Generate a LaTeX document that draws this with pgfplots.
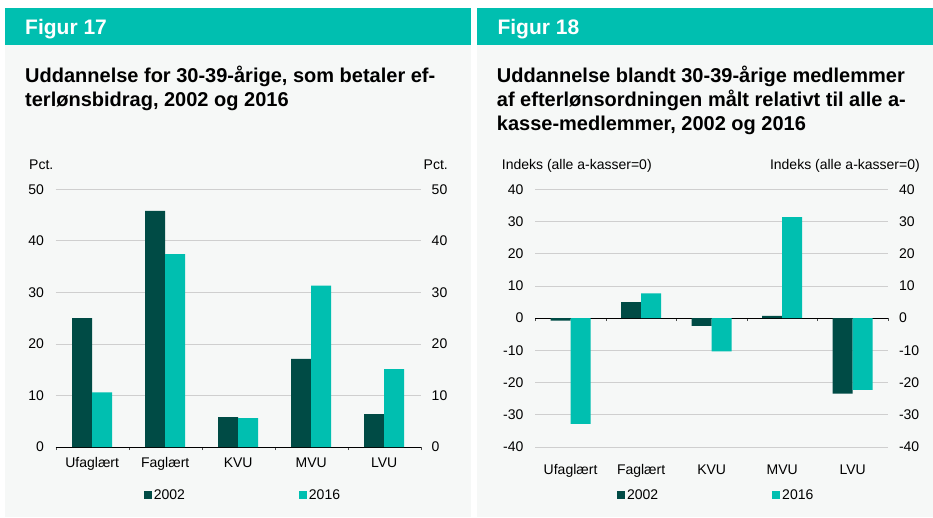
\documentclass[border=0pt]{standalone}
\usepackage{fontspec}
\setmainfont{Liberation Sans}
\usepackage{pgfplots}
\usepackage{pgfplotstable}
\pgfplotsset{compat=1.18}

\definecolor{darkbar}{HTML}{004B45}
\definecolor{lightbar}{HTML}{00BFB0}
\definecolor{headbar}{HTML}{00BFB0}
\definecolor{panelbg}{HTML}{F6F8F7}
\definecolor{gridgray}{HTML}{CFCFCF}

% Figur 17: share (pct.)
\pgfplotstableread{
x y02 y16
0 25.0 10.6
1 45.8 37.4
2 5.8 5.6
3 17.1 31.3
4 6.4 15.1
}\figA

% Figur 18: index (all a-kasser = 0)
\pgfplotstableread{
x y02 y16
0 -0.8 -32.8
1 5.0 7.7
2 -2.4 -10.3
3 0.7 31.4
4 -23.4 -22.3
}\figB

\pgfplotsset{
  panel/.style={
    scale only axis, height=257.7pt,
    xmin=-0.5, xmax=4.5,
    xtick={0,...,4},
    xticklabels={Ufaglært,Faglært,KVU,MVU,LVU},
    minor xtick={-0.5,0.5,...,4.5},
    major tick length=0pt, minor tick length=3pt,
    tick align=outside,
    major x tick style={draw=none},
    minor x tick style={black!70},
    ytick style={draw=none},
    ymajorgrids, grid style={gridgray, line width=0.8pt},
    axis y line*=left, y axis line style={draw=none},
    x axis line style={-, black, line width=0.9pt},
    ybar=0pt, bar width=20pt,
    /pgf/number format/assume math mode=true,
    tick label style={font=\fontsize{14}{16}\selectfont},
    yticklabel style={xshift=-8.3pt},
    xticklabel style={yshift=-7pt},
    legend columns=2,
    legend style={draw=none, fill=none, font=\fontsize{14}{16}\selectfont,
      at={(axis description cs:0.513,-0.186)}, anchor=center,
      /tikz/every even column/.append style={column sep=112pt}},
    legend image code/.code={\fill[##1] (0pt,-4pt) rectangle (8pt,4pt);},
  },
  rightlabels/.style={
    scale only axis, height=257.7pt,
    xmin=-0.5, xmax=4.5,
    axis x line=none,
    axis y line*=right, y axis line style={draw=none},
    ytick style={draw=none}, major tick length=0pt,
    /pgf/number format/assume math mode=true,
    tick label style={font=\fontsize{14}{16}\selectfont},
    yticklabel style={xshift=7.5pt},
  },
}

\begin{document}
\begin{tikzpicture}
\useasboundingbox (0pt,0pt) rectangle (933pt,517pt);
\fill[white] (0pt,0pt) rectangle (933pt,517pt);

% panels
\fill[panelbg] (5pt,0pt) rectangle (471pt,472pt);
\fill[headbar] (5pt,472pt) rectangle (471pt,509pt);
\fill[panelbg] (477pt,0pt) rectangle (933pt,472pt);
\fill[headbar] (477pt,472pt) rectangle (933pt,509pt);

% headers and titles
\node[anchor=base west, inner sep=0, text=white, font=\fontsize{21}{25}\selectfont\bfseries] at (25pt,482.7pt) {Figur 17};
\node[anchor=base west, inner sep=0, text=white, font=\fontsize{21}{25}\selectfont\bfseries] at (497.3pt,482.7pt) {Figur 18};

\begin{scope}[every node/.style={anchor=base west, inner sep=0, font=\fontsize{20}{24}\selectfont\bfseries}]
\node at (25pt,434.7pt) {Uddannelse for 30-39-årige, som betaler ef-};
\node at (25pt,410.7pt) {terlønsbidrag, 2002 og 2016};
\node at (496.7pt,434.7pt) {Uddannelse blandt 30-39-årige medlemmer};
\node at (496.7pt,410.7pt) {af efterlønsordningen målt relativt til alle a-};
\node at (496.7pt,386.7pt) {kasse-medlemmer, 2002 og 2016};
\end{scope}

\begin{scope}[every node/.style={inner sep=0, font=\fontsize{14}{16}\selectfont}]
\node[anchor=base west] at (29pt,347.7pt) {Pct.};
\node[anchor=base east] at (448pt,347.7pt) {Pct.};
\node[anchor=base west] at (501.7pt,347.7pt) {Indeks (alle a-kasser=0)};
\node[anchor=base east] at (920pt,347.7pt) {Indeks (alle a-kasser=0)};
\end{scope}

% Figur 17
\begin{axis}[panel, at={(55.7pt,70pt)}, anchor=south west, width=365pt,
    ymin=0, ymax=50, ytick={0,10,...,50},
    axis x line*=bottom]
\addplot[fill=darkbar, draw=none] table[x=x, y=y02] {\figA};
\addplot[fill=lightbar, draw=none] table[x=x, y=y16] {\figA};
\legend{2002,2016}
\end{axis}
\begin{axis}[rightlabels, at={(55.7pt,70pt)}, anchor=south west, width=365pt,
    ymin=0, ymax=50, ytick={0,10,...,50}]
\end{axis}

% Figur 18
\begin{axis}[panel, at={(535.3pt,70pt)}, anchor=south west, width=352.7pt,
    ymin=-40, ymax=40, ytick={-40,-30,...,40},
    axis x line*=middle,
    xticklabel style={yshift=-135.7pt}]
\addplot[fill=darkbar, draw=none] table[x=x, y=y02] {\figB};
\addplot[fill=lightbar, draw=none] table[x=x, y=y16] {\figB};
\legend{2002,2016}
\end{axis}
\begin{axis}[rightlabels, at={(535.3pt,70pt)}, anchor=south west, width=352.7pt,
    ymin=-40, ymax=40, ytick={-40,-30,...,40}]
\end{axis}
\end{tikzpicture}
\end{document}
